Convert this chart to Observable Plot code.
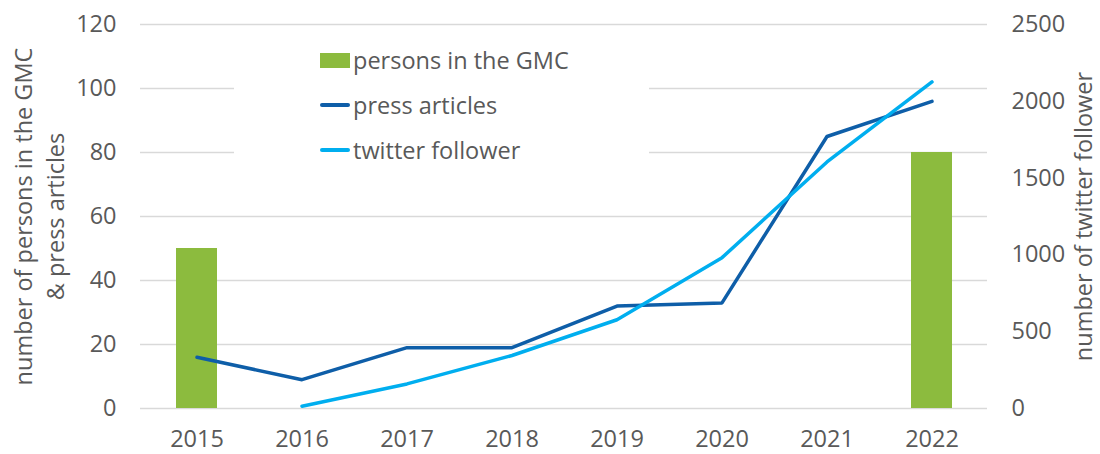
<!DOCTYPE html>
<html>
<head>
<meta charset="utf-8">
<script src="https://cdn.jsdelivr.net/npm/d3@7"></script>
<script src="https://cdn.jsdelivr.net/npm/@observablehq/plot@0.6"></script>
<style>
  html, body { margin: 0; padding: 0; background: white; }
  #wrap { position: relative; width: 1100px; height: 454px; font-family: "Open Sans", sans-serif; color: #595959; }
  #legend { position: absolute; left: 234px; top: 34px; width: 415px; height: 164px; background: white; }
  .item { position: absolute; left: 86px; height: 44px; display: flex; align-items: center; font-size: 23.5px; white-space: nowrap; }
  .sw { display: inline-block; width: 30px; margin-right: 3px; }
</style>
</head>
<body>
<div id="wrap">
  <div id="chart"></div>
  <div id="legend"></div>
</div>
<script>
const years = ["2015", "2016", "2017", "2018", "2019", "2020", "2021", "2022"];
const personYears = ["2015", "2022"];
const personValues = [50, 80];
const pressValues = [16, 9, 19, 19, 32, 33, 85, 96];
const twitterYears = ["2016", "2017", "2018", "2019", "2020", "2021", "2022"];
const twitterValues = [15, 160, 345, 578, 982, 1605, 2126];
const leftTicks = [0, 20, 40, 60, 80, 100, 120];
const rightTicks = [0, 500, 1000, 1500, 2000, 2500];
const seriesNames = ["persons in the GMC", "press articles", "twitter follower"];
const colors = ["#8CBB3E", "#0E5EA8", "#00AEEF"];
const leftTitle = "number of persons in the GMC\n& press articles";
const rightTitle = "number of twitter follower";

const k = 120 / 2500;
const personsData = personYears.map((x, i) => ({x, v: personValues[i]}));
const pressData = years.map((x, i) => ({x, v: pressValues[i]}));
const twitterData = twitterYears.map((x, i) => ({x, v: twitterValues[i] * k}));

const chart = Plot.plot({
  width: 1100,
  height: 454,
  marginLeft: 140,
  marginRight: 113,
  marginTop: 24,
  marginBottom: 46,
  style: {fontFamily: "'Open Sans', sans-serif", fontSize: "23.5px", color: "#595959", background: "white", overflow: "visible"},
  x: {type: "band", domain: years, paddingInner: 0, paddingOuter: 0},
  y: {domain: [0, 120]},
  marks: [
    Plot.gridY(leftTicks, {stroke: "#d9d9d9", strokeOpacity: 1, strokeWidth: 1.5}),
    Plot.barY(personsData, {x: "x", y: "v", fill: colors[0], insetLeft: 32, insetRight: 32}),
    Plot.line(pressData, {x: "x", y: "v", stroke: colors[1], strokeWidth: 3.5}),
    Plot.line(twitterData, {x: "x", y: "v", stroke: colors[2], strokeWidth: 3.5}),
    Plot.axisX({tickSize: 0, tickPadding: 22, label: null}),
    Plot.axisY(leftTicks, {anchor: "left", tickSize: 0, tickPadding: 24, label: null}),
    Plot.axisY(rightTicks.map(v => v * k), {anchor: "right", tickSize: 0, tickPadding: 24, label: null, tickFormat: d => String(Math.round(d / k))}),
    Plot.text([leftTitle], {frameAnchor: "left", textAnchor: "middle", lineAnchor: "middle", rotate: -90, dx: -103, lineHeight: 1.4, fill: "#595959"}),
    Plot.text([rightTitle], {frameAnchor: "right", textAnchor: "middle", lineAnchor: "middle", rotate: -90, dx: 97, fill: "#595959"})
  ]
});
document.getElementById("chart").appendChild(chart);

const legend = document.getElementById("legend");
seriesNames.forEach((name, i) => {
  const item = document.createElement("div");
  item.className = "item";
  item.style.top = (4 + i * 45) + "px";
  const sw = document.createElement("span");
  sw.className = "sw";
  if (i === 0) {
    sw.style.height = "15px";
    sw.style.background = colors[i];
  } else {
    sw.style.height = "4px";
    sw.style.borderRadius = "2px";
    sw.style.background = colors[i];
  }
  item.appendChild(sw);
  const t = document.createElement("span");
  t.textContent = name;
  item.appendChild(t);
  legend.appendChild(item);
});
</script>
</body>
</html>
